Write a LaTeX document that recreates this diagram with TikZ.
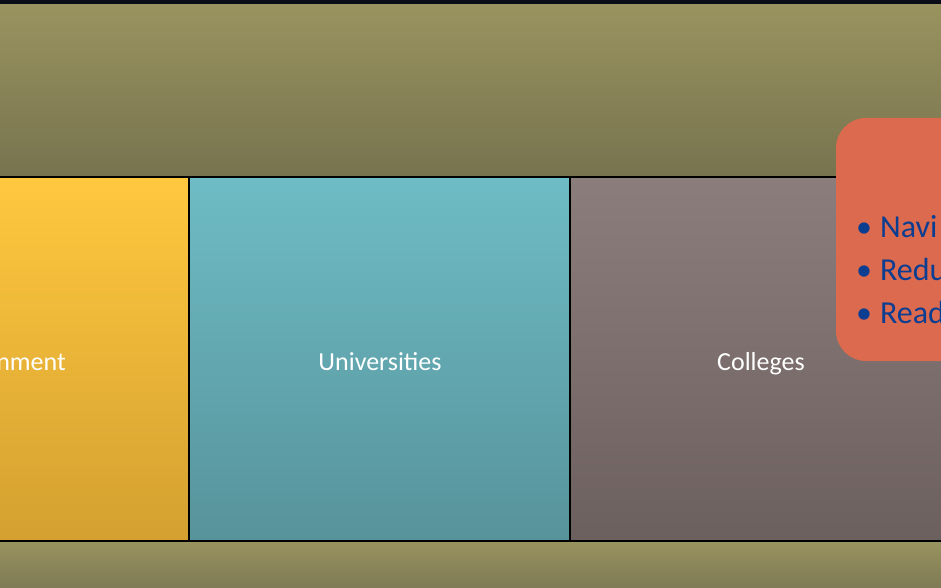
\documentclass[tikz,border=0pt]{standalone}
\usepackage{fontspec}
\setmainfont{Carlito}
\definecolor{olivetop}{RGB}{153,147,95}
\definecolor{olivebot}{RGB}{119,115,78}
\definecolor{olivebotb}{RGB}{126,122,84}
\definecolor{yeltop}{RGB}{255,200,63}
\definecolor{yelbot}{RGB}{212,160,48}
\definecolor{tealtop}{RGB}{110,188,197}
\definecolor{tealbot}{RGB}{87,147,155}
\definecolor{graytop}{RGB}{139,125,123}
\definecolor{graybot}{RGB}{108,96,95}
\definecolor{orangebox}{RGB}{220,106,79}
\definecolor{bluetext}{RGB}{11,61,145}
\definecolor{darkstrip}{RGB}{10,13,24}
\tikzset{
  panel/.style={draw=black, line width=2pt, minimum height=364pt, inner sep=0pt},
  paneltext/.style={text=white, font=\fontsize{26}{30}\selectfont, inner sep=0pt},
  bullettext/.style={text=bluetext, font=\fontsize{32}{36}\selectfont, anchor=base west, inner sep=0pt}
}
\begin{document}
\begin{tikzpicture}[x=1pt,y=-1pt]
\useasboundingbox (0,0) rectangle (941,588);
\clip (0,0) rectangle (941,588);
% top dark strip
\fill[darkstrip] (0,0) rectangle (941,5);
% olive bands
\shade[top color=olivetop, bottom color=olivebot] (0,5) rectangle (941,177);
\shade[top color=olivetop, bottom color=olivebotb] (0,541) rectangle (941,588);
% panels
\node[panel, top color=yeltop, bottom color=yelbot, minimum width=382pt] (gov) at (-2.5,359) {};
\node[panel, top color=tealtop, bottom color=tealbot, minimum width=381pt] (univ) at (379.5,359) {};
\node[panel, top color=graytop, bottom color=graybot, minimum width=381pt] (coll) at (760.5,359) {};
\node[paneltext, anchor=base east] (govtext) at (66,370.5) {nment};
\node[paneltext, anchor=base] (univtext) at (380,370.5) {Universities};
\node[paneltext, anchor=base] (colltext) at (761,370.5) {Colleges};
% orange rounded box
\fill[orangebox, rounded corners=30pt] (836,118) rectangle (1010,361);
\node[bullettext] (b1) at (856,237) {•\hspace{8pt}Navi};
\node[bullettext] (b2) at (856,280) {•\hspace{8pt}Redu};
\node[bullettext] (b3) at (856,323) {•\hspace{8pt}Read};
\end{tikzpicture}
\end{document}
